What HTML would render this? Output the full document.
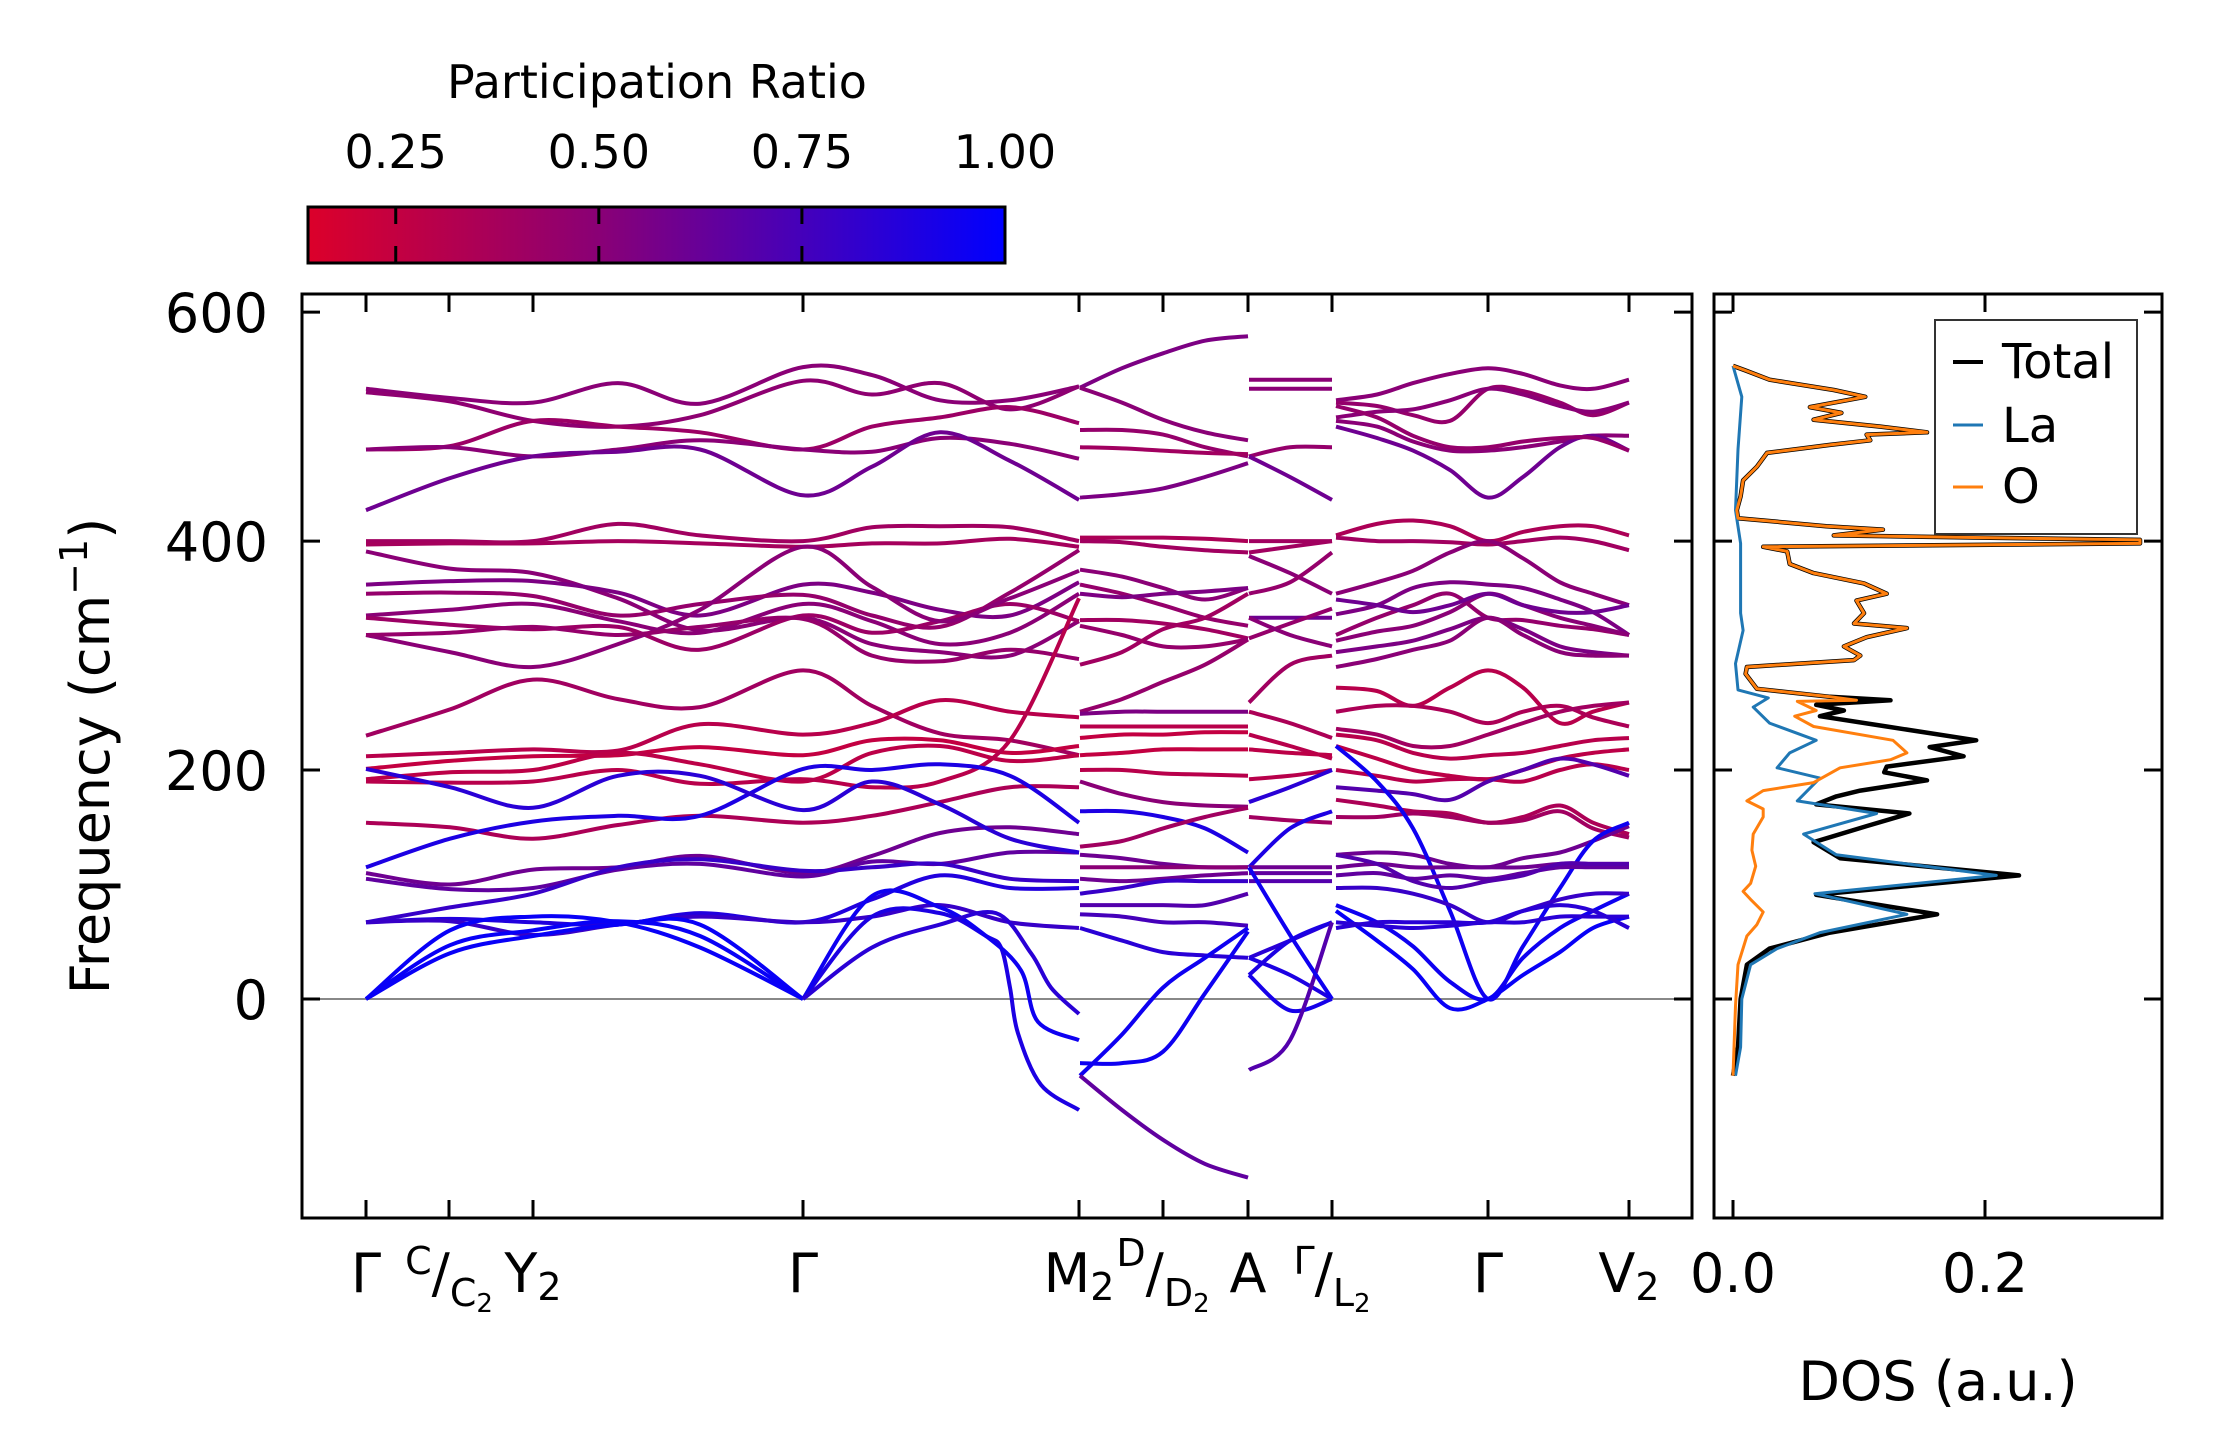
<!DOCTYPE html>
<html><head><meta charset="utf-8"><style>
html,body{margin:0;padding:0;background:#fff;}
svg{display:block;font-family:"DejaVu Sans","Liberation Sans",sans-serif;}
</style></head><body>
<svg id="fig" width="2222" height="1455" viewBox="0 0 2222 1455" xmlns="http://www.w3.org/2000/svg">
<defs>
<linearGradient id="cmap" x1="0" x2="1" y1="0" y2="0">
<stop offset="0" stop-color="rgb(220,0,42)"/><stop offset="0.42" stop-color="rgb(137,0,118)"/><stop offset="1" stop-color="rgb(0,0,255)"/>
</linearGradient>
<clipPath id="mainclip"><rect x="302" y="294" width="1390" height="924"/></clipPath>
<clipPath id="dosclip"><rect x="1714" y="294" width="448" height="924"/></clipPath>
</defs>
<g>
<text x="657" y="98" font-size="46" text-anchor="middle">Participation Ratio</text>
<rect x="308" y="207" width="697" height="56" fill="url(#cmap)" stroke="#000" stroke-width="3"/>
<g id="cbticks"></g>
</g>
<g id="main">
<line x1="302" x2="1692" y1="999" y2="999" stroke="#888" stroke-width="2"/>
<g id="bands" clip-path="url(#mainclip)"></g>
<rect x="302" y="294" width="1390" height="924" fill="none" stroke="#000" stroke-width="3"/>
<g id="mainticks"></g>
<text transform="translate(109,756) rotate(-90)" font-size="54" text-anchor="middle">Frequency (cm<tspan font-size="38" dy="-22">−1</tspan><tspan dy="22">)</tspan></text>
</g>
<g id="dos">
<g id="doslines" clip-path="url(#dosclip)"></g>
<rect x="1714" y="294" width="448" height="924" fill="none" stroke="#000" stroke-width="3"/>
<g id="dosticks"></g>
<text x="1938" y="1400" font-size="54" text-anchor="middle">DOS (a.u.)</text>
<g>
<rect x="1935" y="320" width="202" height="214" fill="#fff" stroke="#333" stroke-width="2"/>
<line x1="1953" x2="1983" y1="362" y2="362" stroke="#000" stroke-width="4"/>
<text x="2002" y="378" font-size="48">Total</text>
<line x1="1953" x2="1983" y1="425" y2="425" stroke="#1f77b4" stroke-width="3"/>
<text x="2002" y="442" font-size="48">La</text>
<line x1="1953" x2="1983" y1="487" y2="487" stroke="#ff7f0e" stroke-width="3"/>
<text x="2002" y="503" font-size="48">O</text>
</g>
</g>
</svg>
<script>
// ---- axis data ----
const yTicks=[0,200,400,600];
const kTickPos=[0,0.83,1.67,4.37,7.13,7.97,8.82,9.66,11.22,12.63];
const dosTicks=[0.0,0.2];
const dosTickLabels=["0.0","0.2"];
const cbTicks=[0.25,0.50,0.75,1.00];
const cbTickLabels=["0.25","0.50","0.75","1.00"];
// ---- band k grids ----
const kA=[0,0.84,1.67,2.52,3.34,4.37,5.06,5.74,6.44,7.13];
const kA1=[0,0.84,1.67,2.52,3.34,4.37];
const kAC1=[4.37,5.06,5.74,6.2,6.35,6.44,6.52,6.75,7.13];
const kAC2=[4.37,5.06,5.74,6.2,6.55,6.72,7.13];
const kAC3=[4.37,5.06,5.74,6.3,6.65,6.85,7.13];
const kB=[7.14,7.56,7.97,8.39,8.82];
const kC=[8.83,9.24,9.66];
const kD=[9.70,10.11,10.47,10.84,11.22,11.57,11.94,12.27,12.63];
// ---- path A (Γ-C-Y2-Γ-M2) ----
const freqA=[
[533,525,521,538,520,552,545,523,523,535],
[530,522,505,500,510,540,528,538,515,535],
[480,483,505,500,495,480,500,508,517,503],
[480,482,474,480,488,480,478,490,485,472],
[427,455,474,478,480,440,465,495,470,436],
[400,400,400,415,405,400,412,413,412,400],
[397,398,398,400,398,395,398,398,402,395],
[391,376,372,350,322,333,310,303,300,330],
[362,365,365,355,335,362,355,340,335,364],
[354,355,352,335,345,353,335,325,355,392],
[335,340,345,330,320,345,330,310,320,354],
[333,327,323,325,305,335,320,330,345,330],
[318,303,290,310,340,395,360,330,350,374],
[318,320,325,318,325,332,300,295,305,297],
[230,253,279,262,255,287,256,232,226,213],
[212,215,218,217,240,231,241,261,251,246],
[201,208,212,213,220,213,226,226,215,221],
[192,198,200,215,205,190,215,221,208,213],
[190,189,190,200,188,192,185,190,226,350],
[154,150,140,152,160,154,160,172,185,185],
[115,140,155,160,160,201,200,205,195,154],
[110,100,113,115,125,110,125,145,150,144],
[105,96,97,113,118,107,120,118,128,128],
[67,80,92,115,122,112,115,118,105,103],
[67,70,67,65,75,67,87,108,97,97],
[67,68,56,65,72,67,72,82,67,62],
[201,185,167,195,195,165,190,170,140,128]];
const prA=[0.5,0.48,0.42,0.5,0.6,0.4,0.38,0.5,0.55,0.45,0.5,0.42,0.5,0.45,0.4,0.3,0.25,0.28,0.3,0.35,0.9,0.6,0.65,0.8,0.88,0.8,0.85];
const freqA1=[[0,60,72,67,45,0],[0,47,60,68,55,0],[0,40,55,65,65,0]];
const prA1=[0.97,0.97,0.97];
const freqAC1=[0,72,75,55,45,10,-30,-75,-97];
const freqAC2=[0,90,80,55,25,-20,-36];
const freqAC3=[0,45,65,75,40,10,-13];
// ---- path B ----
const freqB=[
[534,551,564,575,579],[534,521,506,495,488],[497,497,493,482,474],[482,481,479,477,476],
[438,441,446,456,468],[403,403,403,402,400],[400,399,395,392,390],[375,369,359,349,359],
[362,354,344,333,326],[354,351,354,356,359],[331,331,328,323,315],[326,318,308,308,314],
[292,303,323,333,354],[251,262,277,292,314],[249,251,251,251,251],[238,238,238,238,238],
[228,231,231,233,233],[213,215,218,218,218],[200,200,197,196,195],[190,179,172,169,168],
[164,164,159,149,128],[133,138,149,159,167],[126,123,118,115,115],[115,115,115,115,115],
[105,103,105,108,110],[92,97,103,103,103],[82,82,82,82,92],[74,72,67,67,64],
[62,51,41,38,36],[-67,-31,10,36,62],[-56,-56,-46,5,59],[-67,-97,-123,-144,-156]];
const prB=[0.55,0.5,0.45,0.4,0.55,0.35,0.4,0.5,0.45,0.55,0.4,0.45,0.4,0.45,0.55,0.3,0.25,0.25,0.3,0.5,0.9,0.4,0.6,0.5,0.6,0.8,0.7,0.75,0.85,0.95,0.95,0.65];
// ---- path C ----
const freqC=[
[541,541,541],[533,533,533],[474,482,482],[474,456,436],[400,400,400],[390,395,400],[387,372,354],
[354,364,390],[333,333,333],[315,328,341],[333,318,308],[259,292,300],[251,241,228],[231,221,210],
[218,215,213],[192,195,200],[172,185,200],[159,156,154],[115,149,164],[115,115,115],[110,110,110],
[103,103,103],[36,51,67],[21,51,67],[21,-10,0],[36,21,0],[-62,-36,67],[115,56,0]];
const prC=[0.5,0.5,0.45,0.6,0.4,0.4,0.5,0.45,0.6,0.45,0.5,0.4,0.35,0.3,0.28,0.3,0.85,0.4,0.9,0.6,0.65,0.7,0.85,0.9,0.92,0.9,0.7,0.95];
// ---- path D ----
const freqD=[
[523,528,538,546,551,546,536,533,541],[521,518,510,505,533,531,521,510,521],
[508,513,515,523,533,528,518,513,521],[505,500,487,479,479,482,487,492,492],
[500,490,479,462,438,456,482,492,479],[518,508,492,482,482,487,490,490,479],
[405,415,418,413,400,408,413,413,405],[403,400,400,399,397,400,403,400,392],
[354,364,374,390,400,385,364,354,344],[336,344,359,364,362,359,349,338,318],
[318,333,344,354,333,331,326,323,318],[313,321,326,338,354,344,333,326,318],
[303,308,313,323,333,323,308,303,300],[290,297,305,313,333,318,303,300,300],
[349,344,338,344,354,344,338,338,344],
[272,269,256,272,287,272,241,251,259],[251,256,256,251,241,251,256,246,238],
[236,231,221,221,231,241,251,256,259],[231,226,215,210,213,215,221,226,228],
[221,210,200,195,192,200,210,215,218],[200,195,190,192,192,190,200,205,200],
[185,182,179,174,190,200,210,205,195],[174,169,164,162,154,159,169,154,144],
[159,159,162,159,154,156,164,149,141],[126,128,126,118,115,123,128,138,151],
[221,190,149,77,0,46,97,138,154],[82,67,46,15,0,36,62,77,92],[77,51,26,-8,0,21,41,62,72],
[115,118,115,115,115,115,118,118,118],[108,110,105,108,105,110,115,115,115],
[97,97,92,82,67,77,87,92,92],[67,64,62,64,67,67,72,72,72],[62,67,67,67,67,77,82,77,62],
[126,118,103,97,103,108,118,118,118]];
const prD=[0.5,0.45,0.5,0.5,0.6,0.45,0.35,0.4,0.5,0.55,0.45,0.5,0.55,0.5,0.6,0.3,0.35,0.4,0.3,0.28,0.3,0.7,0.35,0.4,0.6,0.95,0.95,0.97,0.6,0.65,0.8,0.85,0.85,0.7];
// ---- DOS ----
const dosFreqO=[553,549,541,532,526,517,512,506,500,495,493,488,484,477,465,453,439,427,420,413,410,405,401,398,395,391,380,372,363,354,348,337,328,324,316,308,300,296,290,284,271,264,261,260,252,247,238,226,215,209,202,189,182,173,166,159,144,130,116,101,94,87,76,65,55,30,-6,-67];
const dosO=[0,0.010,0.029,0.080,0.105,0.061,0.086,0.064,0.117,0.154,0.106,0.109,0.077,0.027,0.019,0.008,0.006,0.003,0.004,0.074,0.119,0.080,0.323,0.323,0.024,0.043,0.045,0.064,0.104,0.122,0.098,0.104,0.096,0.138,0.106,0.088,0.101,0.096,0.011,0.010,0.019,0.077,0.098,0.051,0.066,0.049,0.064,0.127,0.138,0.125,0.085,0.064,0.024,0.011,0.024,0.024,0.016,0.015,0.018,0.014,0.008,0.014,0.024,0.019,0.011,0.004,0.002,0];
const dosFreqTot=[553,549,541,532,526,517,512,506,500,495,493,488,484,477,465,453,439,427,420,413,410,405,401,398,395,391,380,372,363,354,348,337,328,324,316,308,300,296,290,284,271,264,261,257,252,247,238,226,220,212,203,198,191,182,177,170,162,151,137,123,108,91,74,58,44,30,0,-42,-67];
const dosTot=[0,0.010,0.029,0.080,0.105,0.061,0.086,0.064,0.117,0.154,0.106,0.109,0.077,0.027,0.019,0.008,0.006,0.003,0.004,0.074,0.119,0.080,0.323,0.323,0.024,0.043,0.045,0.064,0.104,0.122,0.098,0.104,0.096,0.138,0.106,0.088,0.101,0.096,0.011,0.010,0.019,0.077,0.125,0.066,0.088,0.069,0.122,0.193,0.156,0.183,0.122,0.120,0.154,0.101,0.082,0.066,0.140,0.106,0.064,0.085,0.227,0.066,0.162,0.077,0.029,0.011,0.006,0.004,0];
const dosFreqLa=[553,526,480,427,398,337,322,293,270,263,255,241,226,215,202,193,173,162,144,126,108,92,74,58,44,30,0,-42,-67];
const dosLa=[0,0.007,0.004,0.002,0.006,0.006,0.008,0.002,0.004,0.028,0.016,0.029,0.066,0.045,0.035,0.069,0.051,0.114,0.056,0.082,0.209,0.065,0.138,0.069,0.035,0.014,0.007,0.006,0.002];

const NS='http://www.w3.org/2000/svg';
function yS(f){return 999-f*1.1448;}
function xS(k){return 366+k*100;}
function dS(v){return 1733+v*1260;}
function cbX(p){return 308+(p-0.142)/(1-0.142)*697;}
function mk(tag,attrs,parent){const e=document.createElementNS(NS,tag);for(const a in attrs)e.setAttribute(a,attrs[a]);parent.appendChild(e);return e;}
function prColor(p){
  let t=Math.max(0,Math.min(1,(p-0.142)/(1-0.142)));
  const a=[220,0,42],b=[137,0,118],c=[0,0,255];let r,bl;
  if(t<0.42){const u=t/0.42;r=a[0]+(b[0]-a[0])*u;bl=a[2]+(b[2]-a[2])*u;}
  else{const u=(t-0.42)/0.58;r=b[0]+(c[0]-b[0])*u;bl=b[2]+(c[2]-b[2])*u;}
  return 'rgb('+Math.round(r)+',0,'+Math.round(bl)+')';
}
function smooth(ks,fs){
  const p=ks.map((k,i)=>[xS(k),yS(fs[i])]);
  let d='M'+p[0][0].toFixed(1)+','+p[0][1].toFixed(1);
  for(let i=0;i<p.length-1;i++){
    const p0=p[i-1]||p[i],p1=p[i],p2=p[i+1],p3=p[i+2]||p[i+1];
    const c1=[p1[0]+(p2[0]-p0[0])/6,p1[1]+(p2[1]-p0[1])/6];
    const c2=[p2[0]-(p3[0]-p1[0])/6,p2[1]-(p3[1]-p1[1])/6];
    d+='C'+c1[0].toFixed(1)+','+c1[1].toFixed(1)+' '+c2[0].toFixed(1)+','+c2[1].toFixed(1)+' '+p2[0].toFixed(1)+','+p2[1].toFixed(1);
  }
  return d;
}
const bandsG=document.getElementById('bands');
function drawBand(ks,fs,pr){
  const e=mk('path',{d:smooth(ks,fs),fill:'none',stroke:prColor(pr),'stroke-width':4},bandsG);
  
  
}
freqA.forEach((f,i)=>drawBand(kA,f,prA[i]));
freqA1.forEach((f,i)=>drawBand(kA1,f,prA1[i]));
drawBand(kAC1,freqAC1,0.9);
drawBand(kAC2,freqAC2,0.95);
drawBand(kAC3,freqAC3,0.85);
freqB.forEach((f,i)=>drawBand(kB,f,prB[i]));
freqC.forEach((f,i)=>drawBand(kC,f,prC[i]));
freqD.forEach((f,i)=>drawBand(kD,f,prD[i]));

// main ticks
const mt=document.getElementById('mainticks');
yTicks.forEach(v=>{
  const y=yS(v);
  let e=mk('line',{x1:302,x2:320,y1:y,y2:y,stroke:'#000','stroke-width':3},mt);
  
  
  e=mk('line',{x1:1674,x2:1692,y1:y,y2:y,stroke:'#000','stroke-width':3},mt);
  
  
  const t=mk('text',{x:268,y:y+20,'font-size':54,'text-anchor':'end'},mt);
  t.textContent=String(v);
  
  
});
kTickPos.forEach(k=>{
  const x=xS(k);
  let e=mk('line',{x1:x,x2:x,y1:1218,y2:1200,stroke:'#000','stroke-width':3},mt);
  
  
  e=mk('line',{x1:x,x2:x,y1:294,y2:312,stroke:'#000','stroke-width':3},mt);
  
  
});
// label parts: [text, font-size, relative dy]
const kLabels=[
 {k:0,parts:[['Γ',54,0]]},
 {k:0.83,parts:[['C',38,-18],['/',54,18],['C',38,14],['2',26,6]]},
 {k:1.67,parts:[['Y',54,0],['2',38,8]]},
 {k:4.37,parts:[['Γ',54,0]]},
 {k:7.13,parts:[['M',54,0],['2',38,8]]},
 {k:7.97,parts:[['D',38,-26],['/',54,26],['D',38,14],['2',26,6]]},
 {k:8.82,parts:[['A',54,0]]},
 {k:9.66,parts:[['Γ',38,-18],['/',54,18],['L',38,14],['2',26,6]]},
 {k:11.22,parts:[['Γ',54,0]]},
 {k:12.63,parts:[['V',54,0],['2',38,8]]}];
kLabels.forEach(L=>{
  const t=mk('text',{x:xS(L.k),y:1292,'text-anchor':'middle'},mt);
  
  
  L.parts.forEach(s=>{
    const ts=mk('tspan',{'font-size':s[1]},t);
    if(s[2]!==0) ts.setAttribute('dy',s[2]);
    ts.textContent=s[0];
  });
});

// colorbar ticks
const cbt=document.getElementById('cbticks');
cbTicks.forEach((v,i)=>{
  const x=cbX(v);
  if(v<1){
    let e=mk('line',{x1:x,x2:x,y1:207,y2:224,stroke:'#000','stroke-width':3},cbt);
    
    
    e=mk('line',{x1:x,x2:x,y1:246,y2:263,stroke:'#000','stroke-width':3},cbt);
    
    
  }
  const t=mk('text',{x:x,y:168,'font-size':46,'text-anchor':'middle'},cbt);
  t.textContent=cbTickLabels[i];
  
  
});

// DOS
const dg=document.getElementById('doslines');
function dosLine(fr,vals,color,w,name){
  const pts=fr.map((f,i)=>dS(vals[i]).toFixed(1)+','+yS(f).toFixed(1)).join(' ');
  const e=mk('polyline',{points:pts,fill:'none',stroke:color,'stroke-width':w,'stroke-linejoin':'round'},dg);
  
  
}
dosLine(dosFreqTot,dosTot,'#000',4.5,'dos-total-line');
dosLine(dosFreqLa,dosLa,'#1f77b4',3,'dos-la-line');
dosLine(dosFreqO,dosO,'#ff7f0e',3,'dos-o-line');
const dt=document.getElementById('dosticks');
yTicks.forEach(v=>{
  const y=yS(v);
  let e=mk('line',{x1:1714,x2:1732,y1:y,y2:y,stroke:'#000','stroke-width':3},dt);
  
  
  e=mk('line',{x1:2144,x2:2162,y1:y,y2:y,stroke:'#000','stroke-width':3},dt);
  
  
});
dosTicks.forEach((v,i)=>{
  const x=dS(v);
  let e=mk('line',{x1:x,x2:x,y1:1218,y2:1200,stroke:'#000','stroke-width':3},dt);
  
  
  e=mk('line',{x1:x,x2:x,y1:294,y2:312,stroke:'#000','stroke-width':3},dt);
  
  
  const t=mk('text',{x:x,y:1292,'font-size':54,'text-anchor':'middle'},dt);
  t.textContent=dosTickLabels[i];
  
  
});
</script>
</body></html>
